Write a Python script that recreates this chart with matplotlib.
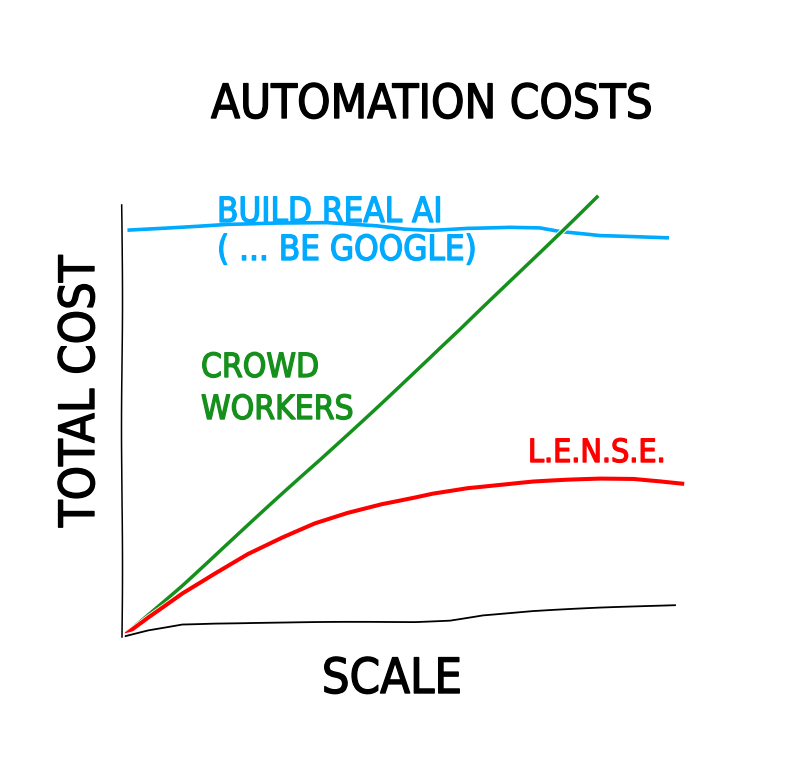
import matplotlib
matplotlib.use('Agg')
import matplotlib.pyplot as plt
import matplotlib.patheffects as pe
import numpy as np

# values (scale 0..100, cost 0..100)
ai_scale = [1.3, 9.9, 18.8, 27.8, 36.7, 45.7, 50.7, 55.7, 61.8, 69.5, 74.9, 78.5, 85.7, 91.6, 97.7]
ai_cost = [94.2, 94.9, 95.6, 95.8, 95.8, 95.1, 94.4, 94.2, 94.7, 94.9, 94.7, 93.8, 92.8, 92.6, 92.4]

crowd_scale = [0, 10.8, 22.6, 35.5, 60.6, 85.1]
crowd_cost = [0, 12.0, 25.9, 41.0, 71.1, 101.9]

lense_scale = [0, 4.7, 10.8, 16.7, 22.6, 28.7, 34.6, 40.5, 46.6, 52.5, 55.7,
               61.8, 67.7, 73.7, 79.8, 85.7, 91.6, 96.4, 100.4]
lense_cost = [0, 4.6, 10.2, 14.8, 19.2, 22.9, 26.2, 28.7, 30.8, 32.4, 33.3,
              34.5, 35.2, 35.9, 36.3, 36.6, 36.6, 36.1, 35.6]

base_scale = [0, 4.7, 10.8, 16.7, 52.5, 58.8, 64.7, 73.7, 85.7, 99.1]
base_cost = [0, 1.6, 3.0, 3.2, 3.5, 3.9, 5.1, 6.0, 6.7, 7.4]

BLUE = '#00aaff'
GREEN = '#16901c'
RED = '#ff0000'

plt.xkcd(scale=0.5, length=300, randomness=2)
plt.rcParams['font.family'] = ['DejaVu Sans']
plt.rcParams['font.stretch'] = 'condensed'

fig = plt.figure(figsize=(8.07, 7.7), dpi=100)
ax = fig.add_axes([122 / 807, 133 / 770, 558 / 807, 432 / 770])

ax.plot(ai_scale, ai_cost, color=BLUE, lw=2.6, clip_on=False)
ax.plot(crowd_scale, crowd_cost, color=GREEN, lw=2.5, clip_on=False)
ax.plot(lense_scale, lense_cost, color=RED, lw=2.9, clip_on=False)
ax.plot(base_scale, base_cost, color='black', lw=1.3, clip_on=False)

ax.set_xlim(0, 100)
ax.set_ylim(0, 100)
ax.spines['top'].set_visible(False)
ax.spines['right'].set_visible(False)
ax.spines['bottom'].set_visible(False)
ax.spines['left'].set_linewidth(1.1)
ax.set_xticks([])
ax.set_yticks([])


def px(x, y):
    return x / 807, 1 - y / 770


def label(x, y, s, size, color='black', **kw):
    fx = [pe.withStroke(linewidth=1.0, foreground=color)]
    fig.text(*px(x, y), s, fontsize=size, color=color, stretch='condensed',
             path_effects=fx, **kw)


label(432, 118, 'AUTOMATION COSTS', 34, ha='center', va='baseline')
label(392, 693, 'SCALE', 35, ha='center', va='baseline')
label(80, 391, 'TOTAL COST', 35, rotation=90, ha='center', va='center')

label(217, 222, 'BUILD REAL AI', 25, BLUE, va='baseline')
label(217, 260, '( ... BE GOOGLE)', 25, BLUE, va='baseline')
label(201, 377, 'CROWD', 24, GREEN, va='baseline')
label(201, 419, 'WORKERS', 24, GREEN, va='baseline')
label(528, 462, 'L.E.N.S.E.', 23, RED, va='baseline')

fig.savefig('out.png', dpi=100)
